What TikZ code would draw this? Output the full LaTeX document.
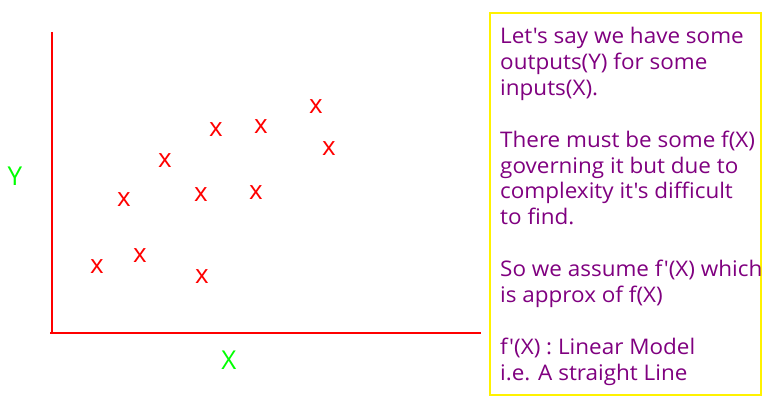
\documentclass[tikz,border=0pt]{standalone}
\usepackage{fontspec}
\setmainfont{Open Sans}[Ligatures=TeXOff]
\newfontfamily\notefont{Open Sans}[Ligatures=TeXOff,FakeStretch=1.045]
\begin{document}
\begin{tikzpicture}[x=1pt,y=-1pt,
  xm/.style={text=red,inner sep=0pt,font=\fontsize{26}{26}\selectfont},
  axis/.style={draw=red,line width=2pt},
  lbl/.style={text=green,inner sep=0pt,font=\fontsize{26}{26}\selectfont},
  note/.style={draw=yellow,line width=2.2pt,fill=white,minimum width=271pt,minimum height=382pt,inner sep=0pt},
  notetext/.style={text={rgb,255:red,128;green,0;blue,128},align=left,anchor=north west,inner sep=0pt,font=\notefont\fontsize{21.5}{25.9}\selectfont}]
\useasboundingbox (0,0) rectangle (779,403);
\fill[white] (0,0) rectangle (779,403);
\coordinate (top) at (52,32);
\coordinate (origin) at (52,333);
\coordinate (left) at (50,333);
\coordinate (right) at (481,333);
\draw[axis] (top) -- (origin);
\draw[axis] (left) -- (right);
\node[lbl] (ylab) at (15,176) {Y};
\node[lbl] (xlab) at (229,360) {X};
\node[xm] (p1) at (97,267) {x};
\node[xm] (p2) at (140,256) {x};
\node[xm] (p3) at (124,200) {x};
\node[xm] (p4) at (165,161) {x};
\node[xm] (p5) at (216,130) {x};
\node[xm] (p6) at (261,127) {x};
\node[xm] (p7) at (316,107) {x};
\node[xm] (p8) at (329,149) {x};
\node[xm] (p9) at (201,195) {x};
\node[xm] (p10) at (256,193) {x};
\node[xm] (p11) at (202,277) {x};
\node[note,anchor=north west] (box) at (489,12) {};
\node[notetext] (txt) at (500,27) {Let's say we have some\\outputs(Y) for some\\inputs(X).\\[25.9pt]There must be some f(X)\\governing it but due to\\complexity it's difficult\\to find.\\[25.9pt]So we assume f'(X) which\\is approx of f(X)\\[25.9pt]f'(X) : Linear Model\\i.e. A straight Line};
\end{tikzpicture}
\end{document}
